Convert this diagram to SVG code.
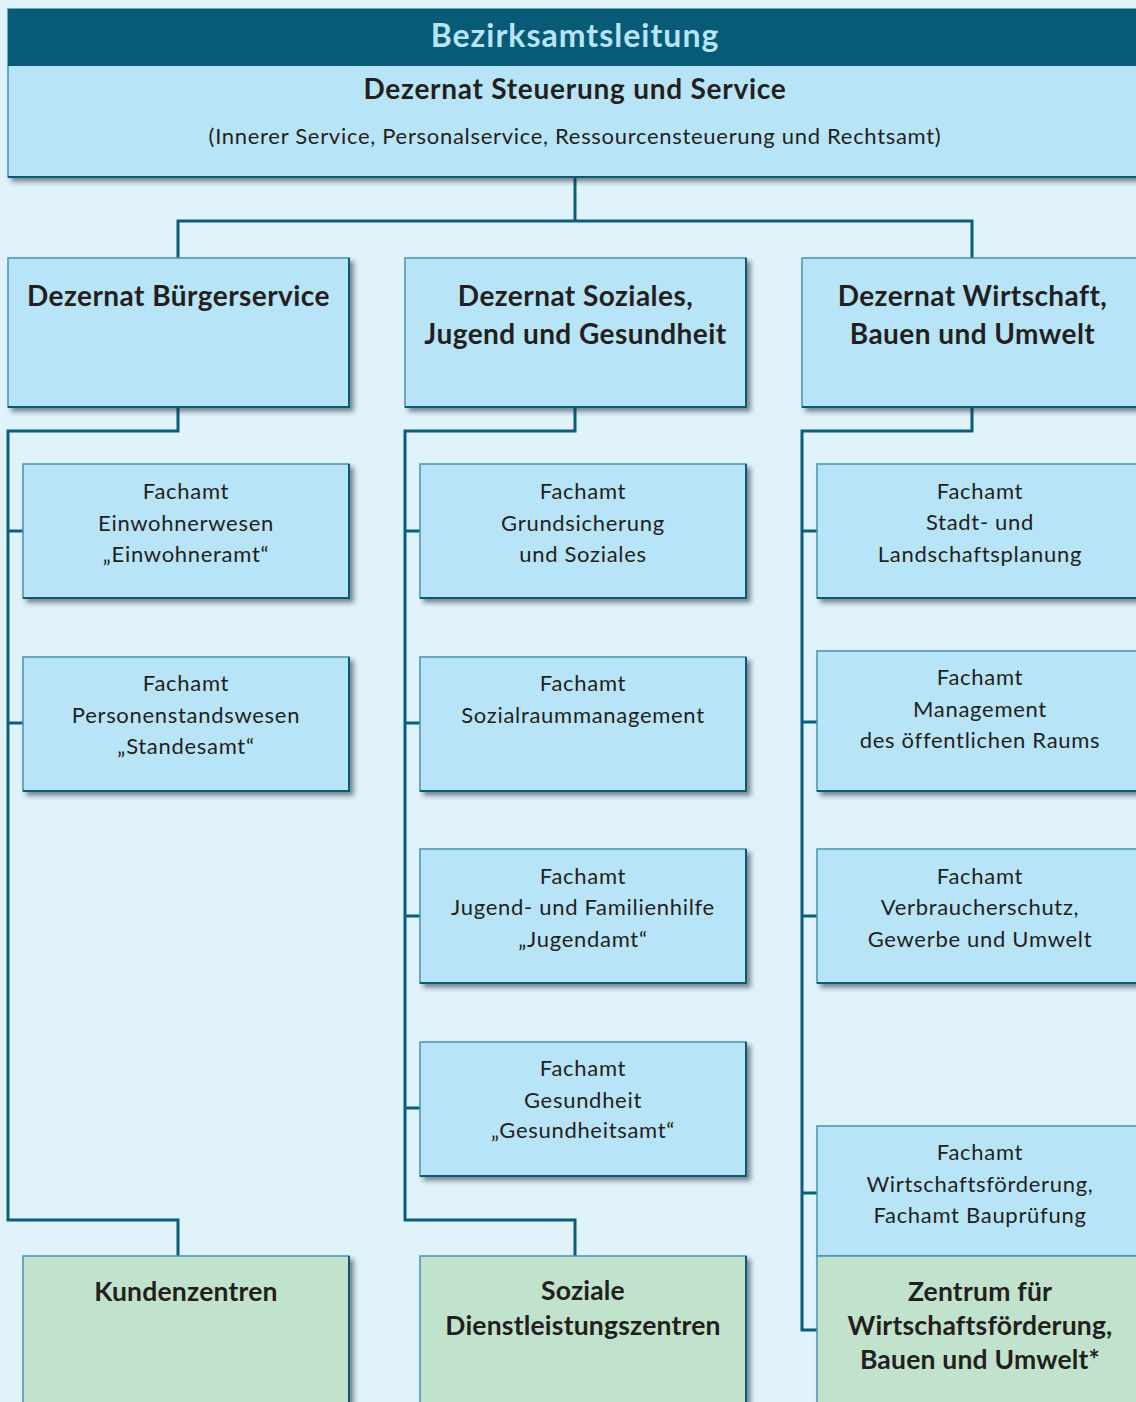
<svg xmlns="http://www.w3.org/2000/svg" width="1136" height="1402" viewBox="0 0 1136 1402">
<defs>
<filter id="sh" x="-5%" y="-5%" width="115%" height="120%">
<feDropShadow dx="4" dy="4" stdDeviation="2.5" flood-color="#1d2b33" flood-opacity="0.55"/>
</filter>
</defs>
<style>
.box{fill:#b8e4f8;stroke:#4a93b0;stroke-width:1.5;filter:url(#sh)}
.green{fill:#c1e2cc}
.edge{fill:none;stroke:#0b5a75;stroke-width:2}
.conn{fill:none;stroke:#0b5e79;stroke-width:3}
text{font-family:Lato,"Open Sans",sans-serif;fill:#231f20;text-anchor:middle}
.r{font-size:22px;letter-spacing:0.7px}
.b{font-size:28px;font-weight:bold;letter-spacing:0.45px}
.s{letter-spacing:0.75px}
.g{font-size:26.5px;font-weight:bold;letter-spacing:0.2px}
.h{font-size:32px;font-weight:bold;fill:#b8e4f8;letter-spacing:1px}
</style>
<rect x="0" y="0" width="1136" height="1402" fill="#e0f3fb"/>

<g id="connectors">
<path class="conn" d="M575,177 V221 M178,258 V221 H972 V258"/>
<path class="conn" d="M178,407 V431 H8 V1220 H178 V1256 M8,531 H23 M8,723 H23"/>
<path class="conn" d="M575,407 V431 H405 V1220 H575 V1256 M405,531 H420 M405,723 H420 M405,916 H420 M405,1108 H420"/>
<path class="conn" d="M972,407 V431 H802 V1330 H817 M802,531 H817 M802,722 H817 M802,916 H817 M802,1193 H817"/>
</g>

<g id="top">
<rect class="box" x="8" y="9" width="1135" height="168"/>
<rect x="8" y="9" width="1135" height="57" fill="#075b77"/>
<path class="edge" d="M8,177 H1143"/>
<text class="h" x="575" y="47">Bezirksamtsleitung</text>
<text class="b s" x="575" y="99">Dezernat Steuerung und Service</text>
<text class="r" x="575" y="144">(Innerer Service, Personalservice, Ressourcensteuerung und Rechtsamt)</text>
</g>

<g id="dez-buerger">
<rect class="box" x="8" y="258" width="341" height="149"/>
<path class="edge" d="M349,258 V407 H8"/>
<text class="b" x="178.5" y="306">Dezernat Bürgerservice</text>
</g>
<g id="dez-soziales">
<rect class="box" x="405" y="258" width="341" height="149"/>
<path class="edge" d="M746,258 V407 H405"/>
<text class="b" x="575.5" y="306">Dezernat Soziales,</text>
<text class="b" x="575.5" y="344">Jugend und Gesundheit</text>
</g>
<g id="dez-wirtschaft">
<rect class="box" x="802" y="258" width="341" height="149"/>
<path class="edge" d="M1143,258 V407 H802"/>
<text class="b" x="972.5" y="306">Dezernat Wirtschaft,</text>
<text class="b" x="972.5" y="344">Bauen und Umwelt</text>
</g>

<g id="fa-einwohner">
<rect class="box" x="23" y="464" width="326" height="134"/>
<path class="edge" d="M349,464 V598 H23"/>
<text class="r" x="186" y="499">Fachamt</text>
<text class="r" x="186" y="530.5">Einwohnerwesen</text>
<text class="r" x="186" y="562">„Einwohneramt“</text>
</g>
<g id="fa-personenstand">
<rect class="box" x="23" y="657" width="326" height="134"/>
<path class="edge" d="M349,657 V791 H23"/>
<text class="r" x="186" y="691">Fachamt</text>
<text class="r" x="186" y="722.5">Personenstandswesen</text>
<text class="r" x="186" y="754">„Standesamt“</text>
</g>

<g id="fa-grundsicherung">
<rect class="box" x="420" y="464" width="326" height="134"/>
<path class="edge" d="M746,464 V598 H420"/>
<text class="r" x="583" y="499">Fachamt</text>
<text class="r" x="583" y="530.5">Grundsicherung</text>
<text class="r" x="583" y="562">und Soziales</text>
</g>
<g id="fa-sozialraum">
<rect class="box" x="420" y="657" width="326" height="134"/>
<path class="edge" d="M746,657 V791 H420"/>
<text class="r" x="583" y="691">Fachamt</text>
<text class="r" x="583" y="722.5">Sozialraummanagement</text>
</g>
<g id="fa-jugend">
<rect class="box" x="420" y="849" width="326" height="134"/>
<path class="edge" d="M746,849 V983 H420"/>
<text class="r" x="583" y="884">Fachamt</text>
<text class="r" x="583" y="915">Jugend- und Familienhilfe</text>
<text class="r" x="583" y="946.5">„Jugendamt“</text>
</g>
<g id="fa-gesundheit">
<rect class="box" x="420" y="1042" width="326" height="134"/>
<path class="edge" d="M746,1042 V1176 H420"/>
<text class="r" x="583" y="1076">Fachamt</text>
<text class="r" x="583" y="1107.5">Gesundheit</text>
<text class="r" x="583" y="1138">„Gesundheitsamt“</text>
</g>

<g id="fa-stadtplanung">
<rect class="box" x="817" y="464" width="326" height="134"/>
<path class="edge" d="M817,598 H1143"/>
<text class="r" x="980" y="498.5">Fachamt</text>
<text class="r" x="980" y="530">Stadt- und</text>
<text class="r" x="980" y="561.5">Landschaftsplanung</text>
</g>
<g id="fa-oeffraum">
<rect class="box" x="817" y="651" width="326" height="140"/>
<path class="edge" d="M817,791 H1143"/>
<text class="r" x="980" y="685">Fachamt</text>
<text class="r" x="980" y="716.5">Management</text>
<text class="r" x="980" y="748">des öffentlichen Raums</text>
</g>
<g id="fa-verbraucher">
<rect class="box" x="817" y="849" width="326" height="134"/>
<path class="edge" d="M817,983 H1143"/>
<text class="r" x="980" y="883.5">Fachamt</text>
<text class="r" x="980" y="915">Verbraucherschutz,</text>
<text class="r" x="980" y="946.5">Gewerbe und Umwelt</text>
</g>
<g id="fa-wirtschaft">
<rect class="box" x="817" y="1126" width="326" height="130"/>
<text class="r" x="980" y="1160">Fachamt</text>
<text class="r" x="980" y="1191.5">Wirtschaftsförderung,</text>
<text class="r" x="980" y="1223">Fachamt Bauprüfung</text>
</g>

<g id="kundenzentren">
<rect class="box green" x="23" y="1256" width="326" height="160"/>
<path class="edge" d="M349,1256 V1416"/>
<text class="g" x="186" y="1300.5">Kundenzentren</text>
</g>
<g id="sdz">
<rect class="box green" x="420" y="1256" width="326" height="160"/>
<path class="edge" d="M746,1256 V1416"/>
<text class="g" x="583" y="1300">Soziale</text>
<text class="g" x="583" y="1335">Dienstleistungszentren</text>
</g>
<g id="zentrum-wbu">
<rect class="box green" x="817" y="1256" width="326" height="160"/>
<text class="g" x="980" y="1301">Zentrum für</text>
<text class="g" x="980" y="1335">Wirtschaftsförderung,</text>
<text class="g" x="980" y="1369">Bauen und Umwelt*</text>
</g>
</svg>
